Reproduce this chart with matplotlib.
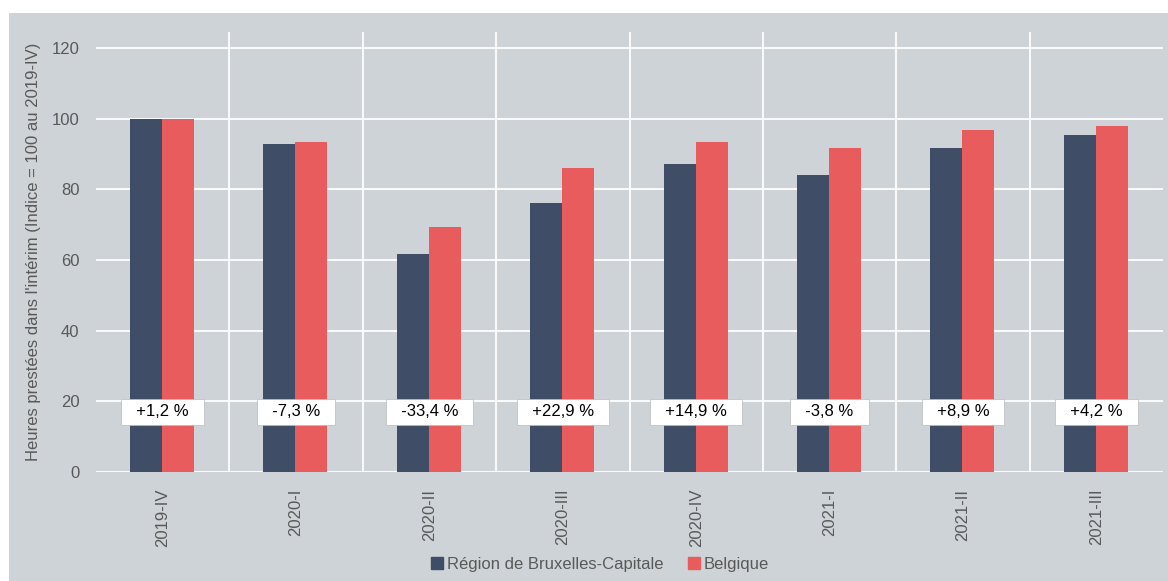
import numpy as np
import matplotlib
matplotlib.use("Agg")
import matplotlib.pyplot as plt
from matplotlib.patches import Rectangle
from matplotlib.lines import Line2D

plt.rcParams['font.family'] = ['Liberation Sans', 'DejaVu Sans']

quarters = ["2019-IV", "2020-I", "2020-II", "2020-III", "2020-IV", "2021-I", "2021-II", "2021-III"]
bruxelles = [100.0, 92.8, 61.8, 76.1, 87.2, 84.0, 91.7, 95.3]
belgique = [100.0, 93.3, 69.3, 86.1, 93.3, 91.7, 96.9, 97.8]
variations = ["+1,2 %", "-7,3 %", "-33,4 %", "+22,9 %", "+14,9 %", "-3,8 %", "+8,9 %", "+4,2 %"]

navy = "#3f4e66"
red = "#e95c5e"
bg = "#cdd3d6"
txt = "#595959"

fig = plt.figure(figsize=(11.68, 5.81), dpi=100)
fig.patches.append(Rectangle((9 / 1168, 0), 1, 1 - 13 / 581, transform=fig.transFigure,
                             facecolor=bg, edgecolor="none", zorder=-10))

ax = fig.add_axes([96 / 1168, 1 - 472 / 581, (1163 - 96) / 1168, (472 - 32) / 581])
ax.set_facecolor("none")

x = np.arange(len(quarters))
w = 0.24
ax.bar(x - w / 2 - 0.005, bruxelles, w, color=navy, zorder=3)
ax.bar(x + w / 2 - 0.005, belgique, w, color=red, zorder=3)

# boxes with the quarter-on-quarter change (Bruxelles)
for i, lab in enumerate(variations):
    ax.text(x[i], 17, "  " + lab + "  ", ha="center", va="center", fontsize=12, color="black", zorder=5,
            bbox=dict(boxstyle="square,pad=0.35", facecolor="white", edgecolor="#bbbbbb", linewidth=0.5))

ax.set_xlim(-0.5, len(quarters) - 0.5)
ax.set_ylim(0, 124.5)
ax.set_yticks([0, 20, 40, 60, 80, 100, 120])
ax.set_xticks(x)
ax.set_xticklabels(quarters, rotation=90)
ax.tick_params(axis="both", length=0, labelsize=12, colors=txt)
ax.tick_params(axis="y", pad=12)
ax.tick_params(axis="x", pad=12)
for s in ax.spines.values():
    s.set_visible(False)

ax.grid(axis="y", color="white", linewidth=1.3, zorder=1)
for b in np.arange(0.5, len(quarters) - 1, 1):
    ax.axvline(b, color="white", linewidth=1.3, zorder=1)

ax.set_ylabel("Heures prestées dans l'intérim (Indice = 100 au 2019-IV)", fontsize=12, color=txt, labelpad=2)
ax.yaxis.set_label_coords(-0.052, 0.5)

handles = [Line2D([], [], marker="s", linestyle="none", color=navy, markersize=8),
           Line2D([], [], marker="s", linestyle="none", color=red, markersize=8)]
fig.legend(handles, ["Région de Bruxelles-Capitale", "Belgique"], loc="center",
           bbox_to_anchor=(598 / 1168, 1 - 564 / 581), ncol=2, frameon=False, fontsize=12,
           labelcolor=txt, handletextpad=0.0, columnspacing=1.2, handlelength=1.2)

fig.savefig("out.png", dpi=100)
